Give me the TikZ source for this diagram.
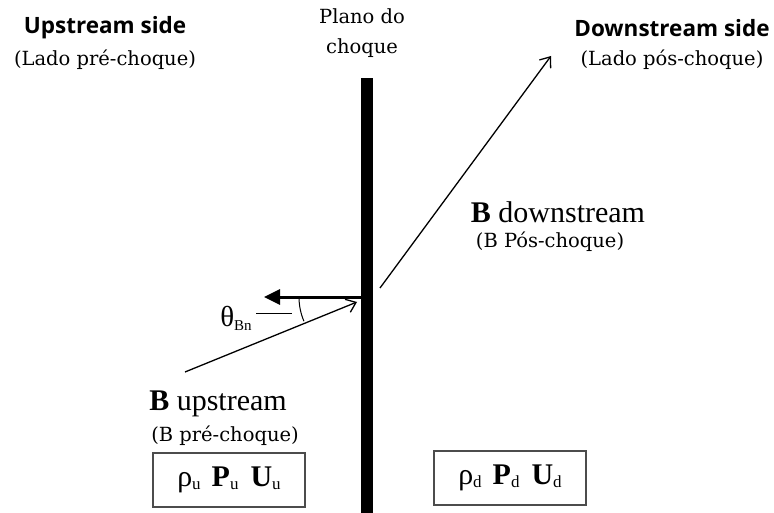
\documentclass[tikz,border=0pt]{standalone}
\usepackage{fontspec}
\setmainfont{Liberation Serif}
\newfontfamily\hdfont{Open Sans}
\newfontfamily\subfont{DejaVu Serif}
\usetikzlibrary{arrows.meta}
\newcommand\lo[1]{\raisebox{-0.3ex}{\fontsize{15}{15}\selectfont #1}}
\newcommand\los[1]{\raisebox{-0.2ex}{\fontsize{17}{17}\selectfont #1}}
\tikzset{
  hd/.style={font=\hdfont\bfseries\fontsize{22.5}{24}\selectfont, inner sep=0},
  sub/.style={font=\subfont\fontsize{19.5}{30}\selectfont, inner sep=0},
  blab/.style={font=\fontsize{30}{32}\selectfont, inner sep=0},
  box/.style={draw=black!70, line width=1.4, minimum height=54, inner sep=0, font=\fontsize{30}{32}\selectfont},
  thinarrow/.style={line width=1.3, -{Straight Barb[length=9,width=14,line width=1.3]}},
}
\begin{document}
\begin{tikzpicture}[x=1pt,y=-1pt]
\useasboundingbox (0,0) rectangle (774,513);
% headers
\node[hd] (ups) at (105,28) {Upstream side};
\node[sub] (upsl) at (105,60) {(Lado pré-choque)};
\node[sub, align=center] (plano) at (362,33) {Plano do\\choque};
\node[hd] (dns) at (672,28) {Downstream side};
\node[sub] (dnsl) at (672,60) {(Lado pós-choque)};
% shock plane
\node[fill=black, minimum width=12, minimum height=436, inner sep=0] (bar) at (367,296) {};
\coordinate (O) at (361,297);
% normal
\coordinate (nrm) at (264,297);
\draw[line width=3, -{Triangle[length=16,width=15]}] (O) -- (nrm);
% upstream field
\coordinate (us) at (185,372);
\coordinate (ue) at (357,302);
\draw[thinarrow] (us) -- (ue);
% downstream field
\coordinate (ds) at (380,288);
\coordinate (de) at (551,56);
\draw[thinarrow] (ds) -- (de);
% angle
\draw[line width=1] ([shift={(180:62)}]O) arc[start angle=180,end angle=157,radius=62];
\node[font=\fontsize{29}{30}\selectfont, inner sep=0] (theta) at (236,318) {θ\lo{Bn}};
\coordinate (ta) at (256,313);
\coordinate (tb) at (292,313);
\draw[line width=1] (ta) -- (tb);
% labels
\node[blab] (bu) at (218,404) {\textbf{B} upstream};
\node[sub] (bul) at (225,436) {(B pré-choque)};
\node[blab] (bd) at (558,212) {\textbf{B} downstream};
\node[sub] (bdl) at (550,242) {(B Pós-choque)};
% boxes
\node[box, minimum width=152] (boxu) at (229,480) {ρ\los{u}\hspace{11pt}\textbf{P}\los{u}\hspace{12pt}\textbf{U}\los{u}};
\node[box, minimum width=152] (boxd) at (510,478) {ρ\los{d}\hspace{11pt}\textbf{P}\los{d}\hspace{12pt}\textbf{U}\los{d}};
\end{tikzpicture}
\end{document}
